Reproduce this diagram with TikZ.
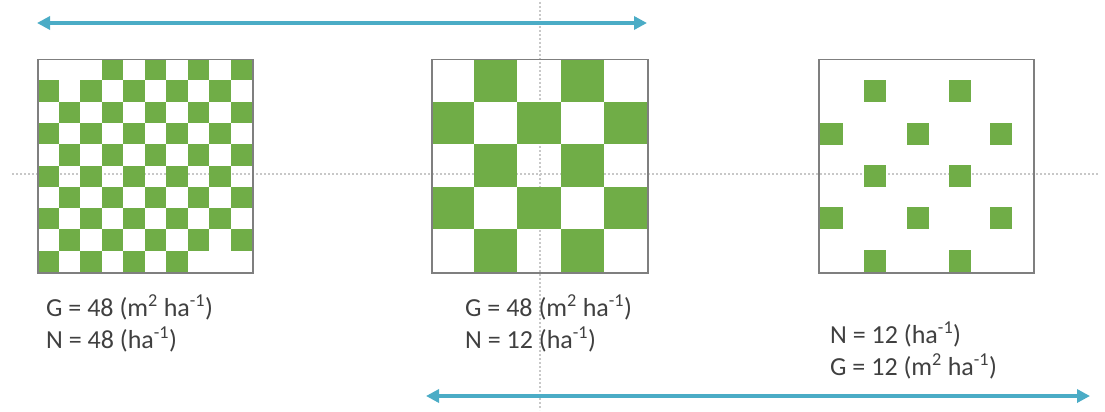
\documentclass[tikz,border=0pt]{standalone}
\usepackage{fontspec}
\setmainfont{Carlito}
\usetikzlibrary{arrows.meta,calc}
\definecolor{grn}{HTML}{70AD47}
\definecolor{arrc}{HTML}{4BACC6}
\definecolor{txtc}{HTML}{404040}
\definecolor{boxc}{HTML}{7F7F7F}
\definecolor{dotc}{HTML}{C8C8C8}
\tikzset{
  plot/.style={draw=boxc, line width=1.5pt, minimum width=215pt, minimum height=213pt, anchor=north west, inner sep=0pt},
  cell/.style={fill=grn},
  guide/.style={draw=dotc, line width=1.6pt, dash pattern=on 1.6pt off 2.4pt},
  span/.style={draw=arrc, line width=3.5pt, {Triangle[length=13pt,width=13pt]}-{Triangle[length=13pt,width=13pt]}},
  lbl/.style={anchor=base west, inner sep=0pt, text=txtc, font=\fontsize{26}{32}\selectfont}
}
\begin{document}
\begin{tikzpicture}[x=1pt,y=-1pt]
\useasboundingbox (0,0) rectangle (1105,412);
% guide lines
\coordinate (hl) at (12,174);
\coordinate (hr) at (1098,174);
\coordinate (vt) at (540,2);
\coordinate (vb) at (540,410);
\draw[guide] (hl) -- (hr);
\draw[guide] (vt) -- (vb);
% left plot
\foreach \r in {0,...,9}{
  \foreach \c in {0,...,9}{
    \pgfmathtruncatemacro\myodd{mod(\r+\c,2)}
    \pgfmathtruncatemacro\myskp{((\r==0)&&(\c==1))||((\r==9)&&(\c==8))}
    \ifnum\myodd=1 \ifnum\myskp=0
      \fill[cell] (37+\c*21.5,59+\r*21.3) rectangle ++(21.5,21.3);
    \fi\fi
  }
}
\node[plot] (p1) at (37,59) {};
% middle plot
\foreach \r in {0,...,4}{
  \foreach \c in {0,...,4}{
    \pgfmathtruncatemacro\myodd{mod(\r+\c,2)}
    \ifnum\myodd=1
      \fill[cell] (431+\c*43.2,59+\r*42.6) rectangle ++(43.2,42.6);
    \fi
  }
}
\node[plot, minimum width=216pt] (p2) at (431,59) {};
% right plot
\foreach \y in {80,165,250}{
  \foreach \x in {864,949}{
    \fill[cell] (\x,\y) rectangle ++(22,22);
  }
}
\foreach \y in {123,207}{
  \fill[cell] (818,\y) rectangle ++(25,22);
  \foreach \x in {907,990}{
    \fill[cell] (\x,\y) rectangle ++(22,22);
  }
}
\node[plot] (p3) at (818,59) {};
% arrows
\coordinate (a1l) at (37,23);
\coordinate (a1r) at (647,23);
\coordinate (a2l) at (426,396);
\coordinate (a2r) at (1090,396);
\draw[span] (a1l) -- (a1r);
\draw[span] (a2l) -- (a2r);
% labels
\node[lbl] (t1a) at (46,316) {G = 48 (m\textsuperscript{2} ha\textsuperscript{-1})};
\node[lbl] (t1b) at (46,348) {N = 48 (ha\textsuperscript{-1})};
\node[lbl] (t2a) at (465,316) {G = 48 (m\textsuperscript{2} ha\textsuperscript{-1})};
\node[lbl] (t2b) at (465,348) {N = 12 (ha\textsuperscript{-1})};
\node[lbl] (t3a) at (830,343) {N = 12 (ha\textsuperscript{-1})};
\node[lbl] (t3b) at (830,375) {G = 12 (m\textsuperscript{2} ha\textsuperscript{-1})};
\end{tikzpicture}
\end{document}
